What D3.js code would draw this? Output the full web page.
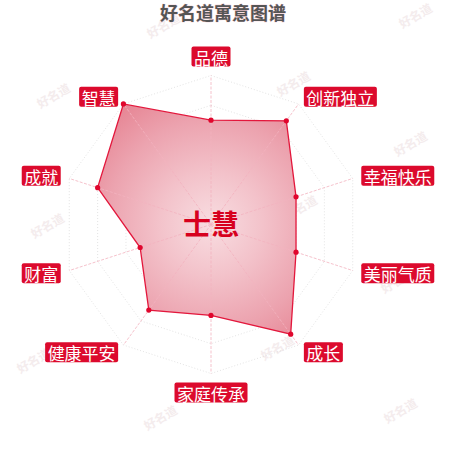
<!DOCTYPE html>
<html><head><meta charset="utf-8">
<script src="https://cdn.jsdelivr.net/npm/d3@7"></script>
<style>html,body{margin:0;padding:0;background:#fff;}svg{display:block;}</style>
</head><body>
<svg id="chart" width="450" height="450"></svg>
<script>
const title = "好名道寓意图谱";
const centerName = "士慧";
const indicators = ["品德","创新独立","幸福快乐","美丽气质","成长","家庭传承","健康平安","财富","成就","智慧"];
const values = [70, 86, 60, 60, 91, 61, 71, 50, 80, 100];
const maxValue = 100;
const gridLevels = [0.2, 0.4, 0.6, 0.8, 1.0];
const watermarks = [[163,25],[415,15],[53,95],[293,83],[410,143],[47,225],[300,207],[397,280],[33,360],[277,347],[160,417],[400,410]];

const svg = d3.select("#chart");
const cx = 211, cy = 224.5, R = 149;
const n = indicators.length;
const angle = d3.scaleLinear().domain([0, n]).range([0, 2*Math.PI]);
const rScale = d3.scaleLinear().domain([0, maxValue]).range([0, R]);
const pt = (i, r) => [cx + r*Math.sin(angle(i)), cy - r*Math.cos(angle(i))];

const defs = svg.append("defs");
const grad = defs.append("radialGradient").attr("id","areaGrad")
  .attr("gradientUnits","userSpaceOnUse").attr("cx",cx).attr("cy",cy).attr("r",R);
[[0,"#f8dde1"],[0.35,"#f3c2ca"],[0.7,"#eca3af"],[1,"#e68493"]].forEach(s=>
  grad.append("stop").attr("offset",s[0]).attr("stop-color",s[1]));

// watermarks
svg.append("g").selectAll("text").data(watermarks).join("text")
  .attr("transform", d=>`translate(${d[0]},${d[1]}) rotate(-30)`)
  .attr("text-anchor","middle").attr("dominant-baseline","central")
  .attr("font-family","'Noto Sans CJK SC', sans-serif").attr("font-size",12).attr("font-weight","bold")
  .attr("fill","#f4eced").text("好名道");

// grid
const gridG = svg.append("g");
gridLevels.forEach(l => {
  const pts = d3.range(n).map(i => pt(i, R*l));
  gridG.append("path").attr("d", d3.line().curve(d3.curveLinearClosed)(pts))
    .attr("fill","none").attr("stroke","#dcdcdc").attr("stroke-width",0.8).attr("stroke-dasharray","1,2");
});

// area
const line = d3.line().curve(d3.curveLinearClosed);
const dataPts = values.map((v,i) => pt(i, rScale(v)));
svg.append("path").attr("d", line(dataPts)).attr("fill","url(#areaGrad)");

// axis lines
svg.append("g").selectAll("line").data(indicators).join("line")
  .attr("x1",cx).attr("y1",cy)
  .attr("x2",(d,i)=>pt(i,R)[0]).attr("y2",(d,i)=>pt(i,R)[1])
  .attr("stroke","#f3b3bf").attr("stroke-width",0.8).attr("stroke-dasharray","3,1.5");

svg.append("path").attr("d", line(dataPts)).attr("fill","none")
  .attr("stroke","#e3173c").attr("stroke-width",1.3);
svg.append("g").selectAll("circle").data(dataPts).join("circle")
  .attr("cx",d=>d[0]).attr("cy",d=>d[1]).attr("r",2.6).attr("fill","#e0062d");

// labels
const rl = 158, padX = 2.5, boxH = 20, fs = 17;
const labG = svg.append("g");
indicators.forEach((name,i) => {
  const a = angle(i), s = Math.sin(a), c = Math.cos(a);
  const [x,y] = pt(i, rl);
  const g = labG.append("g");
  const t = g.append("text").attr("font-family","'Noto Sans CJK SC', sans-serif")
    .attr("font-size",fs).attr("fill","#fff").attr("dominant-baseline","central").text(name);
  const w = t.node().getComputedTextLength() + 2*padX;
  let bx = Math.abs(s) < 0.01 ? x - w/2 : (s > 0 ? x : x - w);
  let by = c > 0.99 ? y - boxH : (c < -0.99 ? y : y - boxH/2);
  g.insert("rect","text").attr("x",bx).attr("y",by).attr("width",w).attr("height",boxH)
    .attr("rx",2).attr("fill","#dc0a2d");
  t.attr("x", bx + padX).attr("y", by + boxH/2 + 0.5);
});

// center name
svg.append("text").attr("x",cx).attr("y",223).attr("text-anchor","middle").attr("dominant-baseline","central")
  .attr("font-family","'Noto Sans CJK SC', sans-serif").attr("font-weight","bold").attr("font-size",28)
  .attr("fill","#d7001e").text(centerName);

// title
svg.append("text").attr("x",223).attr("y",12).attr("text-anchor","middle").attr("dominant-baseline","central")
  .attr("font-family","'Noto Sans CJK SC', sans-serif").attr("font-weight","bold").attr("font-size",18)
  .attr("fill","#555").attr("stroke","#f3c6cd").attr("stroke-width",0.6).attr("paint-order","stroke")
  .text(title);
</script>
</body></html>
